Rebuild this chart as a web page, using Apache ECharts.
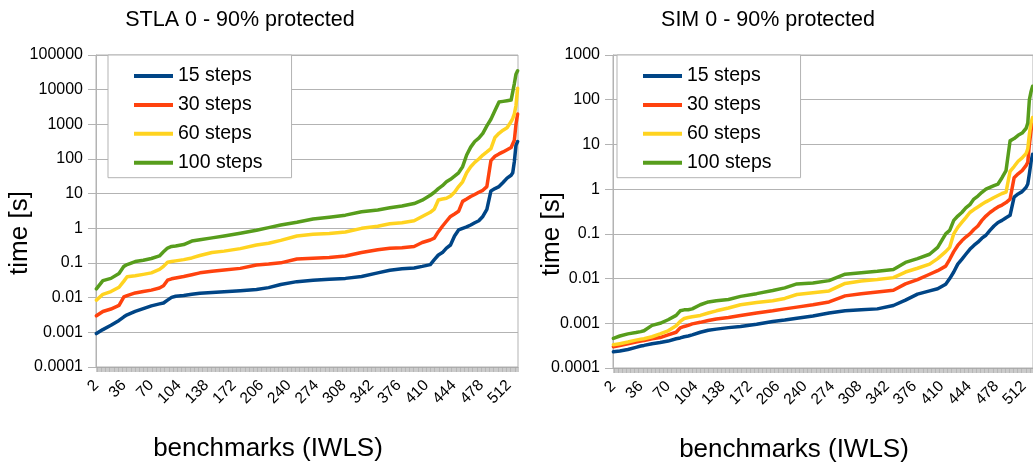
<!DOCTYPE html>
<html>
<head>
<meta charset="utf-8">
<script src="https://cdn.jsdelivr.net/npm/echarts@6/dist/echarts.min.js"></script>
<style>
  html, body { margin: 0; padding: 0; background: #fff; }
  #chart { width: 1033px; height: 466px; }
</style>
</head>
<body>
<div id="chart"></div>
<script>
// Benchmark ids on the category axis (IWLS set, sorted by run time)
const benchmarkIds = Array.from({ length: 522 }, (_, i) => String(i + 2));

// y-axis tick labels (one per decade)
const stlaTicks = ['0.0001', '0.001', '0.01', '0.1', '1', '10', '100', '1000', '10000', '100000'];
const simTicks = ['0.0001', '0.001', '0.01', '0.1', '1', '10', '100', '1000'];

const seriesNames = ['15 steps', '30 steps', '60 steps', '100 steps'];
const seriesColors = ['#004586', '#ff420e', '#ffd320', '#579d1c'];

// benchmark ids at which the run times below were taken
const sampleIds = [2, 10, 20, 30, 36, 40, 50, 60, 70, 80, 85, 90, 95, 100, 110, 120, 130, 145, 160, 180,
  200, 215, 230, 250, 270, 290, 310, 330, 350, 365, 380, 395, 405, 415, 420, 425, 430, 435, 440, 445,
  450, 455, 460, 465, 470, 475, 480, 485, 490, 495, 500, 505, 510, 515, 517, 519, 521, 523];

// STLA, time [s]
const stla15 = [0.00092, 0.0012, 0.0016, 0.0022, 0.0028, 0.0032, 0.004, 0.0048, 0.0058, 0.0066, 0.007, 0.0085, 0.0102, 0.011, 0.0115, 0.0125, 0.0135, 0.0142, 0.0148, 0.0158,
  0.0172, 0.0195, 0.024, 0.029, 0.032, 0.034, 0.036, 0.041, 0.052, 0.062, 0.068, 0.072, 0.08, 0.09, 0.125, 0.17, 0.2, 0.27, 0.33, 0.6,
  0.9, 1.0, 1.1, 1.25, 1.45, 1.65, 2.2, 3.5, 12, 14, 16, 21, 28, 34, 40, 85, 250, 320];
const stla30 = [0.003, 0.004, 0.0047, 0.006, 0.0105, 0.0115, 0.0137, 0.015, 0.0165, 0.019, 0.022, 0.032, 0.035, 0.037, 0.041, 0.046, 0.052, 0.058, 0.063, 0.07,
  0.088, 0.093, 0.101, 0.13, 0.137, 0.145, 0.16, 0.2, 0.24, 0.265, 0.275, 0.3, 0.39, 0.46, 0.52, 0.8, 1.15, 1.6, 2.2, 2.6,
  3.1, 6.0, 7.0, 8.3, 9.5, 11, 12.5, 16, 90, 120, 140, 160, 185, 215, 228, 350, 1000, 2000];
const stla60 = [0.0085, 0.0125, 0.015, 0.02, 0.03, 0.04, 0.043, 0.047, 0.052, 0.065, 0.08, 0.105, 0.11, 0.115, 0.125, 0.14, 0.165, 0.2, 0.22, 0.26,
  0.33, 0.37, 0.45, 0.6, 0.67, 0.71, 0.78, 1.0, 1.15, 1.35, 1.45, 1.65, 2.2, 2.9, 3.6, 6.6, 7.0, 7.4, 8.5, 11,
  16, 22, 40, 60, 80, 100, 130, 160, 200, 420, 550, 680, 800, 1200, 1480, 2000, 3500, 11000];
const stla100 = [0.018, 0.031, 0.036, 0.05, 0.08, 0.09, 0.11, 0.12, 0.135, 0.16, 0.21, 0.27, 0.3, 0.31, 0.34, 0.43, 0.47, 0.53, 0.6, 0.72,
  0.88, 1.05, 1.25, 1.5, 1.85, 2.1, 2.4, 3.0, 3.4, 3.9, 4.4, 5.2, 6.5, 9.0, 11, 14, 17, 22, 26, 32,
  40, 60, 130, 220, 320, 400, 550, 900, 1400, 2500, 4400, 4600, 4800, 5000, 5000, 15000, 28000, 35000];

// SIM, time [s]
const sim15 = [0.00023, 0.00024, 0.00026, 0.00029, 0.00031, 0.00032, 0.00035, 0.00037, 0.0004, 0.00045, 0.00047, 0.0005, 0.00052, 0.00055, 0.00063, 0.0007, 0.00074, 0.0008, 0.00085, 0.00095,
  0.0011, 0.00118, 0.0013, 0.00145, 0.0017, 0.0019, 0.002, 0.0021, 0.0025, 0.0033, 0.0045, 0.0053, 0.0059, 0.0075, 0.01, 0.014, 0.021, 0.027, 0.035, 0.045,
  0.055, 0.065, 0.08, 0.093, 0.12, 0.15, 0.18, 0.2, 0.23, 0.26, 0.66, 0.78, 0.88, 1.1, 1.3, 2.2, 4, 6];
const sim30 = [0.0003, 0.00032, 0.00035, 0.00038, 0.0004, 0.00041, 0.00045, 0.00048, 0.00055, 0.00063, 0.00079, 0.00085, 0.0009, 0.00097, 0.00105, 0.00115, 0.00125, 0.00135, 0.0015, 0.0017,
  0.0019, 0.0021, 0.0023, 0.0026, 0.003, 0.0041, 0.0046, 0.005, 0.0055, 0.0076, 0.0095, 0.0125, 0.015, 0.019, 0.027, 0.04, 0.055, 0.07, 0.085, 0.1,
  0.125, 0.15, 0.2, 0.25, 0.3, 0.35, 0.4, 0.44, 0.5, 0.6, 1.8, 2.2, 2.6, 3.4, 4, 10, 20, 30];
const sim60 = [0.00033, 0.00035, 0.00038, 0.00042, 0.00044, 0.00045, 0.0005, 0.00058, 0.00068, 0.00088, 0.0011, 0.00128, 0.00135, 0.0014, 0.0015, 0.0017, 0.0019, 0.0022, 0.0026, 0.0029,
  0.0032, 0.0036, 0.0044, 0.0048, 0.0053, 0.0078, 0.0088, 0.0095, 0.0105, 0.014, 0.017, 0.021, 0.028, 0.04, 0.05, 0.1, 0.14, 0.18, 0.23, 0.3,
  0.35, 0.4, 0.46, 0.52, 0.58, 0.65, 0.72, 0.8, 0.86, 2.5, 3.2, 4.2, 5.0, 6.3, 8, 17, 30, 40];
const sim100 = [0.00046, 0.00052, 0.00058, 0.00062, 0.00065, 0.00068, 0.0009, 0.001, 0.0012, 0.0015, 0.0019, 0.002, 0.002, 0.0021, 0.0026, 0.003, 0.0032, 0.0034, 0.004, 0.0046,
  0.0054, 0.0062, 0.0076, 0.008, 0.009, 0.0125, 0.0135, 0.0145, 0.016, 0.023, 0.028, 0.035, 0.05, 0.1, 0.12, 0.2, 0.25, 0.3, 0.38, 0.45,
  0.6, 0.7, 0.85, 1.0, 1.1, 1.2, 1.3, 1.8, 2.6, 12, 13.5, 16, 18, 23, 30, 100, 150, 200];

const stlaSeries = [stla15, stla30, stla60, stla100];
const simSeries = [sim15, sim30, sim60, sim100];

const FONT = '"Liberation Sans", Arial, sans-serif';
const GRID_GRAY = '#b3b3b3';

function pairs(values) {
  return sampleIds.map((id, i) => [String(id), values[i]]);
}

function tickFormatter(labels) {
  return v => labels[Math.round(Math.log10(v)) + 4];
}

function xAxis(gridIndex) {
  return {
    type: 'category',
    gridIndex,
    data: benchmarkIds,
    boundaryGap: true,
    axisLine: { show: true, lineStyle: { color: GRID_GRAY, width: 1 } },
    axisTick: { show: true, interval: 0, length: 5, lineStyle: { color: '#a8a8a8', width: 0.6 } },
    axisLabel: { interval: 33, rotate: 45, fontSize: 15.5, fontFamily: FONT, color: '#000', margin: 16 },
    splitLine: { show: false }
  };
}

function yAxis(gridIndex, max, labels) {
  return {
    type: 'log',
    logBase: 10,
    gridIndex,
    min: 0.0001,
    max,
    splitNumber: labels.length - 1,
    axisLine: { show: true, lineStyle: { color: GRID_GRAY, width: 1 } },
    axisTick: { show: true, length: 8, lineStyle: { color: GRID_GRAY, width: 1 } },
    axisLabel: { fontSize: 16, fontFamily: FONT, color: '#000', margin: 13, formatter: tickFormatter(labels) },
    splitLine: { show: true, lineStyle: { color: GRID_GRAY, width: 1 } },
    minorTick: { show: false },
    minorSplitLine: { show: false }
  };
}

function legend(left) {
  return {
    orient: 'vertical',
    left,
    top: 55,
    data: seriesNames,
    icon: 'rect',
    itemWidth: 39,
    itemHeight: 4,
    itemGap: 8.9,
    padding: [11, 29, 5, 26],
    borderColor: GRID_GRAY,
    borderWidth: 1,
    backgroundColor: '#fff',
    textStyle: { fontSize: 19.5, fontFamily: FONT, color: '#000', padding: [0, 0, 0, 0] },
    selectedMode: false
  };
}

function lineSeries(name, color, data, axisIndex) {
  return {
    type: 'line',
    name,
    xAxisIndex: axisIndex,
    yAxisIndex: axisIndex,
    data: pairs(data),
    showSymbol: false,
    symbol: 'none',
    smooth: false,
    lineStyle: { color, width: 3.5, join: 'round', cap: 'round' },
    itemStyle: { color },
    emphasis: { disabled: true },
    animation: false
  };
}

function textEl(text, x, y, size, rotation) {
  return {
    type: 'text',
    x, y,
    rotation: rotation || 0,
    style: { text, font: size + 'px ' + FONT, fill: '#000', align: 'center', verticalAlign: 'middle' },
    silent: true
  };
}

const chart = echarts.init(document.getElementById('chart'), null, { renderer: 'canvas' });

const series = [];
seriesNames.forEach((n, i) => series.push(lineSeries(n, seriesColors[i], stlaSeries[i], 0)));
seriesNames.forEach((n, i) => series.push(lineSeries(n, seriesColors[i], simSeries[i], 1)));

chart.setOption({
  animation: false,
  backgroundColor: '#fff',
  grid: [
    { left: 96, top: 55, width: 422, height: 312, show: true, borderColor: GRID_GRAY, borderWidth: 1, containLabel: false },
    { left: 613, top: 55, width: 422, height: 313, show: true, borderColor: GRID_GRAY, borderWidth: 1, containLabel: false }
  ],
  xAxis: [xAxis(0), xAxis(1)],
  yAxis: [yAxis(0, 100000, stlaTicks), yAxis(1, 1000, simTicks)],
  legend: [legend(108), legend(617)],
  tooltip: { show: false },
  series,
  graphic: [
    textEl('STLA 0 - 90% protected', 240, 20, 21.5),
    textEl('SIM 0 - 90% protected', 768, 20, 21.5),
    textEl('benchmarks (IWLS)', 268, 449, 26),
    textEl('benchmarks (IWLS)', 794, 450, 26),
    textEl('time [s]', 20, 233, 26, Math.PI / 2),
    textEl('time [s]', 552, 234, 26, Math.PI / 2)
  ]
});
</script>
</body>
</html>
